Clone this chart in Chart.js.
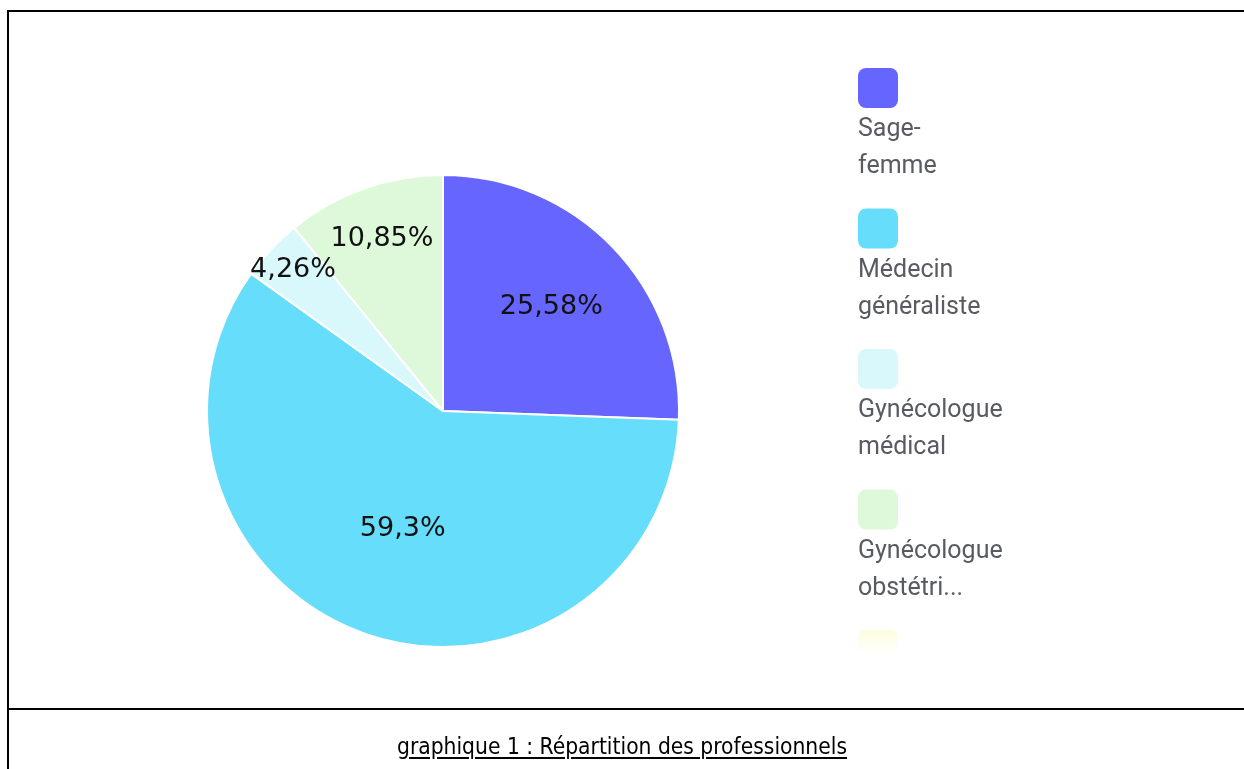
<!DOCTYPE html>
<html>
<head>
<meta charset="utf-8">
<script src="https://cdn.jsdelivr.net/npm/chart.js@4/dist/chart.umd.min.js"></script>
<style>
  html, body { margin: 0; padding: 0; background: #fff; overflow: hidden; }
  #frame { position: absolute; left: 7px; top: 10px; width: 1260px; height: 800px; border: 2px solid #000; box-sizing: border-box; }
  #sep { position: absolute; left: 7px; top: 708px; width: 1260px; height: 2px; background: #000; }
  #caption { position: absolute; left: 0; top: 733px; width: 1244px; text-align: center;
    font-family: "DejaVu Sans Condensed", "DejaVu Sans", sans-serif; font-size: 22.6px; color: #000;
    text-decoration: underline; text-underline-offset: 3px; }
  #wrap { position: absolute; left: 0; top: 0; width: 1244px; height: 769px; }
</style>
</head>
<body>
<div id="frame"></div>
<div id="sep"></div>
<div id="wrap"><canvas id="myChart"></canvas></div>
<div id="caption">graphique 1 : Répartition des professionnels</div>
<script>
// data
const labels = ['Sage-femme', 'Médecin généraliste', 'Gynécologue médical', 'Gynécologue obstétricien', 'Autre'];
const values = [25.58, 59.3, 4.26, 10.85, 0];
const colors = ['#6666ff', '#66ddfa', '#d9f8fc', '#ddf9da', '#fcfcc8'];

// percentage labels on slices, pushed outwards for the thin slices
const sliceLabels = {
    id: 'sliceLabels',
    afterDatasetsDraw(chart) {
        const c = chart.ctx;
        const meta = chart.getDatasetMeta(0);
        c.save();
        c.font = '27px "DejaVu Sans", sans-serif';
        c.fillStyle = '#111';
        c.textAlign = 'center';
        c.textBaseline = 'middle';
        meta.data.forEach(function (arc, i) {
            if (!values[i]) return;
            const p = arc.getProps(['x', 'y', 'startAngle', 'endAngle', 'outerRadius'], true);
            const span = (p.endAngle - p.startAngle) * 180 / Math.PI;
            const mid = (p.startAngle + p.endAngle) / 2;
            const f = 0.5 + 0.455 * Math.exp(-span / 77);
            const x = p.x + Math.cos(mid) * p.outerRadius * f;
            const y = p.y + Math.sin(mid) * p.outerRadius * f;
            c.fillText(String(values[i]).replace('.', ',') + '%', x, y);
        });
        c.restore();
    }
};

// legend: box on top, name below on two lines
const sideLegend = {
    id: 'sideLegend',
    afterDraw(chart) {
        const c = chart.ctx;
        const left = 858, top = 68, step = 140.5, box = 40, fs = 25;
        c.save();
        c.font = fs + 'px Roboto, sans-serif';
        c.textBaseline = 'middle';
        c.textAlign = 'left';
        labels.forEach(function (name, i) {
            const y = top + i * step;
            c.fillStyle = colors[i];
            c.beginPath();
            c.roundRect(left, y, box, box, 8);
            c.fill();
            let lines;
            const h = name.indexOf('-');
            if (h > 0) lines = [name.slice(0, h + 1), name.slice(h + 1)];
            else lines = name.split(' ');
            lines = lines.slice(0, 2).map(function (t) {
                return t.length > 11 ? t.slice(0, 8) + '...' : t;
            });
            c.fillStyle = '#585b60';
            lines.forEach(function (t, j) {
                c.fillText(t, left, y + box / 2 + 42 + j * 37);
            });
        });
        // fade out the bottom of the legend
        const g = c.createLinearGradient(0, 612, 0, 655);
        g.addColorStop(0, 'rgba(255,255,255,0)');
        g.addColorStop(1, 'rgba(255,255,255,1)');
        c.fillStyle = g;
        c.fillRect(815, 600, 200, 100);
        c.restore();
    }
};

const ctx = document.getElementById('myChart').getContext('2d');
const myChart = new Chart(ctx, {
    type: 'pie',
    data: {
        labels: labels,
        datasets: [{
            data: values,
            backgroundColor: colors,
            borderColor: '#ffffff',
            borderWidth: 2
        }]
    },
    options: {
        responsive: true,
        maintainAspectRatio: false,
        animation: false,
        layout: { padding: { left: 206, top: 174, right: 564, bottom: 121 } },
        plugins: {
            legend: { display: false },
            tooltip: { enabled: false }
        }
    },
    plugins: [sliceLabels, sideLegend]
});
</script>
</body>
</html>
